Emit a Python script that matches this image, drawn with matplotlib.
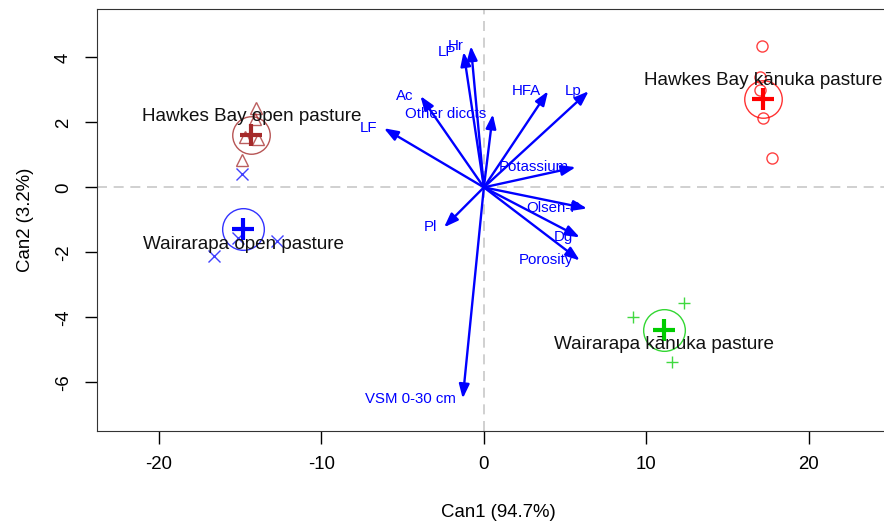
import numpy as np
import matplotlib.pyplot as plt

plt.rcParams['font.family'] = ['Liberation Sans', 'DejaVu Sans']
plt.rcParams['axes.unicode_minus'] = False

# group scores (Can1, Can2)
hb_open_x = [-14.0, -14.1, -14.7, -13.9, -14.9]
hb_open_y = [2.45, 2.1, 1.55, 1.5, 0.85]
wa_open_x = [-14.9, -12.7, -16.6, -15.1]
wa_open_y = [0.4, -1.64, -2.1, -1.55]
hb_kan_x = [17.1, 17.0, 17.0, 17.2, 17.7]
hb_kan_y = [4.35, 3.4, 3.0, 2.13, 0.9]
wa_kan_x = [12.3, 9.2, 11.6]
wa_kan_y = [-3.55, -4.0, -5.37]

group_names = ["Hawkes Bay open pasture", "Wairarapa open pasture",
               "Hawkes Bay kānuka pasture", "Wairarapa kānuka pasture"]
centroid_x = [-14.3, -14.8, 17.2, 11.1]
centroid_y = [1.62, -1.27, 2.72, -4.38]

# structure vectors
var_names = ["Hr", "LP", "Ac", "LF", "Other dicots", "HFA", "Lp", "Potassium",
             "Olsen-P", "Dg", "Porosity", "Pl", "VSM 0-30 cm"]
var_x = [-0.8, -1.25, -3.9, -6.15, 0.55, 3.95, 6.45, 5.65, 6.35, 5.9, 5.9, -2.45, -1.3]
var_y = [4.35, 4.17, 2.81, 1.82, 2.25, 2.96, 2.96, 0.62, -0.65, -1.54, -2.25, -1.23, -6.5]

colors = ['#A52A2A', 'blue', 'red', '#00CD00']
markers = ['^', 'x', 'o', '+']
circ_size = [27, 30, 27, 30]
label_dy = [0.55, -0.5, 0.58, -0.47]

fig = plt.figure(figsize=(8.84, 5.25), dpi=100)
ax = fig.add_axes([97 / 884, 94 / 525, 803 / 884, 422 / 525])

ax.axhline(0, color='#c8c8c8', lw=1.2, ls=(0, (6, 4)), zorder=0)
ax.axvline(0, color='#c8c8c8', lw=1.2, ls=(0, (6, 4)), zorder=0)

pts = [(hb_open_x, hb_open_y), (wa_open_x, wa_open_y),
       (hb_kan_x, hb_kan_y), (wa_kan_x, wa_kan_y)]
for i, (px, py) in enumerate(pts):
    ax.plot(px, py, ls='none', marker=markers[i], ms=8, mfc='none',
            mec=colors[i], mew=1.0, alpha=0.75)
    ax.plot(centroid_x[i], centroid_y[i], marker='+', ms=16, mew=3,
            color=colors[i], ls='none')
    ax.plot(centroid_x[i], centroid_y[i], marker='o', ms=circ_size[i], mfc='none',
            mec=colors[i], mew=1.0, ls='none', alpha=0.8)
    ax.text(centroid_x[i], centroid_y[i] + label_dy[i], group_names[i],
            ha='center', va='center', fontsize=13.6, color='#111111')

for name, vx, vy in zip(var_names, var_x, var_y):
    ax.annotate('', xy=(vx, vy), xytext=(0, 0),
                arrowprops=dict(arrowstyle='-|>,head_length=0.6,head_width=0.22',
                                color='blue', lw=1.7,
                                mutation_scale=14, shrinkA=0, shrinkB=0))
    ax.annotate(name, xy=(vx, vy), xytext=(-5, 0), textcoords='offset points',
                ha='right', va='center', fontsize=10.8, color='blue')

ax.set_xlim(-23.8, 25.6)
ax.set_ylim(-7.5, 5.49)
ax.set_xticks([-20, -10, 0, 10, 20])
ax.set_yticks([-6, -4, -2, 0, 2, 4])
ax.tick_params(length=9, width=1, labelsize=13.4, pad=9)
plt.setp(ax.get_yticklabels(), rotation=90, va='center')
for s in ax.spines.values():
    s.set_color('#333333')
ax.set_xlabel("Can1 (94.7%)", fontsize=13.4, labelpad=22)
ax.set_ylabel("Can2 (3.2%)", fontsize=13.4, labelpad=15)

fig.savefig('out.png', dpi=100)
